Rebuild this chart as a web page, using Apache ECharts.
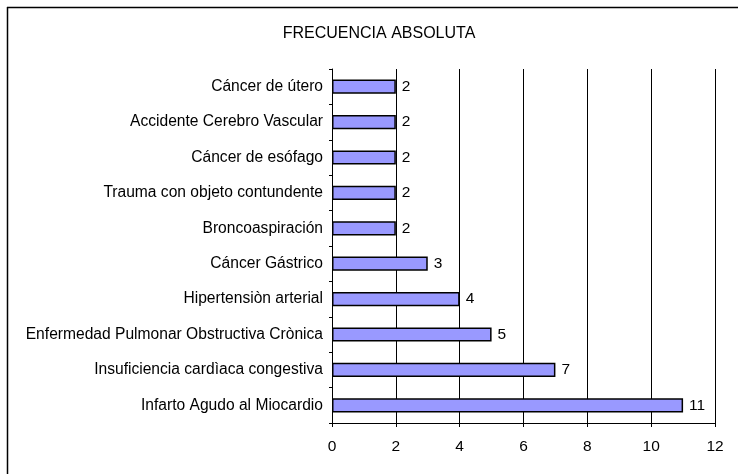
<!DOCTYPE html>
<html>
<head>
<meta charset="utf-8">
<script src="https://cdn.jsdelivr.net/npm/echarts@6/dist/echarts.min.js"></script>
<style>
    html, body { margin: 0; padding: 0; background: #fff; }
    #main { width: 738px; height: 474px; }
</style>
</head>
<body>
<div id="main"></div>
<script>
// categorias de arriba hacia abajo
const causas = [
    'Cáncer de útero',
    'Accidente Cerebro Vascular',
    'Cáncer de esófago',
    'Trauma con objeto contundente',
    'Broncoaspiración',
    'Cáncer Gástrico',
    'Hipertensiòn arterial',
    'Enfermedad Pulmonar Obstructiva Crònica',
    'Insuficiencia cardìaca congestiva',
    'Infarto Agudo al Miocardio'
]
const frecuencia = [2, 2, 2, 2, 2, 3, 4, 5, 7, 11]

const myChart = echarts.init(document.getElementById('main'))
const fuente = 'Liberation Sans, Arial, sans-serif'

myChart.setOption({
    animation: false,
    title: {
        text: 'FRECUENCIA ABSOLUTA',
        left: 374,
        textAlign: 'center',
        top: 21,
        textStyle: { fontFamily: fuente, fontSize: 16, fontWeight: 'normal', color: '#000' }
    },
    graphic: [
        { type: 'line', shape: { x1: 7, y1: 7.5, x2: 738, y2: 7.5 }, style: { stroke: '#000', lineWidth: 1.5 } },
        { type: 'line', shape: { x1: 7.5, y1: 7, x2: 7.5, y2: 474 }, style: { stroke: '#000', lineWidth: 1.5 } }
    ],
    grid: { left: 332, right: 23, top: 69, bottom: 51 },
    xAxis: {
        type: 'value',
        min: 0,
        max: 12,
        interval: 2,
        axisLine: { show: true, lineStyle: { color: '#000' } },
        axisTick: { show: true, length: 4, lineStyle: { color: '#000' } },
        axisLabel: { fontFamily: fuente, fontSize: 15.5, color: '#000', margin: 16 },
        splitLine: { show: true, lineStyle: { color: '#000', width: 1 } }
    },
    yAxis: {
        type: 'category',
        inverse: true,
        data: causas,
        axisLine: { show: true, lineStyle: { color: '#000' } },
        axisTick: { show: true, length: 3, lineStyle: { color: '#000' } },
        axisLabel: { fontFamily: fuente, fontSize: 15.6, color: '#000', margin: 9 }
    },
    series: [{
        type: 'bar',
        data: frecuencia,
        barWidth: '40%',
        itemStyle: { color: '#9999FF', borderColor: '#000', borderWidth: 1.5 },
        label: {
            show: true,
            position: 'right',
            distance: 6,
            fontFamily: fuente,
            fontSize: 15.5,
            color: '#000'
        }
    }]
})
</script>
</body>
</html>
